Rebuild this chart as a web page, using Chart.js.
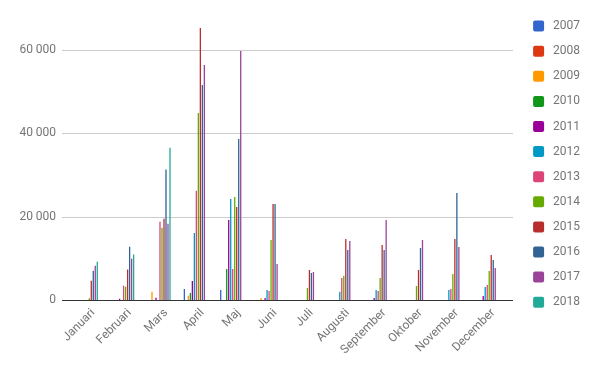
<!DOCTYPE html>
<html>
<head>
<meta charset="utf-8">
<script src="https://cdn.jsdelivr.net/npm/chart.js@4/dist/chart.umd.min.js"></script>
<style>
  html, body { margin: 0; padding: 0; background: #fff; }
  #wrap { width: 600px; height: 371px; }
</style>
</head>
<body>
<div id="wrap"><canvas id="c" width="600" height="371"></canvas></div>
<script>
const categories = ['Januari','Februari','Mars','April','Maj','Juni','Juli','Augusti','September','Oktober','November','December'];
const years = ['2007','2008','2009','2010','2011','2012','2013','2014','2015','2016','2017','2018'];
const colors = ['#3366cc','#dc3912','#ff9900','#109618','#990099','#0099c6','#dd4477','#66aa00','#b82e2e','#316395','#994499','#22aa99'];

const v2007 = [null, null, null, 2640, 2400, null, null, null, null, null, null, null];
const v2008 = [null, null, null, null, null, null, null, null, null, null, null, null];
const v2009 = [null, null, 2000, 1000, null, 500, null, null, null, null, null, null];
const v2010 = [null, null, null, 1700, 7450, null, null, null, null, null, null, null];
const v2011 = [null, 300, 550, 4560, 19200, 500, null, null, 500, null, null, 950];
const v2012 = [null, null, null, 16100, 24250, 2400, null, 2000, 2400, null, 2400, 3100];
const v2013 = [null, 3400, 18800, 26200, 7450, 2150, null, 5300, 2150, null, 2650, 3600];
const v2014 = [400, 3200, 17350, 44900, 24700, 14400, 2900, 5800, 5300, 3350, 6250, 6950];
const v2015 = [4600, 7300, 19500, 65300, 22300, 23050, 7200, 14650, 13200, 7200, 14650, 10800];
const v2016 = [7000, 12800, 31300, 51600, 38650, 23050, 6500, 12000, 12000, 12500, 25700, 9600];
const v2017 = [8200, 9900, 18300, 56400, 59750, 8650, 6700, 14150, 19200, 14400, 12700, 7700];
const v2018 = [9200, 10900, 36550, null, null, null, null, null, null, null, null, null];
const seriesValues = [v2007, v2008, v2009, v2010, v2011, v2012, v2013, v2014, v2015, v2016, v2017, v2018];

const yTickValues = [0, 20000, 40000, 60000];
const yMax = 67392;

const TEXT = '#757575';
const FONT = { family: 'Roboto', size: 12 };

function fmt(v) {
  return String(v).replace(/\B(?=(\d{3})+(?!\d))/g, ' ');
}

const gridPlugin = {
  id: 'gridExt',
  beforeDatasetsDraw(chart) {
    const ctx = chart.ctx, y = chart.scales.y;
    ctx.save();
    ctx.strokeStyle = '#cccccc';
    ctx.lineWidth = 1;
    yTickValues.forEach(v => {
      if (v === 0) return;
      const py = Math.round(y.getPixelForValue(v)) + 0.5;
      ctx.beginPath(); ctx.moveTo(62, py); ctx.lineTo(513, py); ctx.stroke();
    });
    ctx.restore();
  },
  afterDatasetsDraw(chart) {
    const ctx = chart.ctx, y = chart.scales.y;
    ctx.save();
    ctx.strokeStyle = '#333333';
    ctx.lineWidth = 1;
    const py = Math.round(y.getPixelForValue(0)) + 0.5;
    ctx.beginPath(); ctx.moveTo(62, py); ctx.lineTo(513, py); ctx.stroke();
    ctx.restore();
  }
};

new Chart(document.getElementById('c'), {
  type: 'bar',
  data: {
    labels: categories,
    datasets: years.map((yr, i) => ({
      label: yr,
      data: seriesValues[i],
      backgroundColor: colors[i],
      borderWidth: 0,
      categoryPercentage: 0.66,
      barPercentage: 0.65
    }))
  },
  options: {
    responsive: false,
    animation: false,
    devicePixelRatio: 1,
    layout: { padding: { top: 7, right: 20, bottom: 0, left: 0 } },
    plugins: {
      tooltip: { enabled: false },
      legend: {
        position: 'right',
        align: 'start',
        maxWidth: 60,
        labels: {
          boxWidth: 11,
          boxHeight: 11,
          padding: 13.1,
          color: TEXT,
          font: FONT,
          textAlign: 'right',
          useBorderRadius: true,
          borderRadius: 2
        }
      }
    },
    scales: {
      x: {
        grid: { display: false, drawTicks: false },
        border: { display: false },
        ticks: {
          color: TEXT, font: FONT,
          minRotation: 45, maxRotation: 45,
          autoSkip: false,
          padding: 6,
          labelOffset: 7
        },
        afterFit(s) { s.height = 71; }
      },
      y: {
        min: 0,
        max: yMax,
        grid: { display: false, drawTicks: false },
        border: { display: false },
        ticks: {
          color: TEXT, font: FONT, padding: 12,
          callback: (v) => fmt(v)
        },
        afterBuildTicks(s) { s.ticks = yTickValues.map(v => ({ value: v })); },
        afterFit(s) { s.width = 68.1; }
      },
      yR: {
        type: 'linear',
        position: 'right',
        display: true,
        grid: { display: false, drawTicks: false },
        border: { display: false },
        ticks: { display: false },
        afterFit(s) { s.width = 15.6; }
      }
    }
  },
  plugins: [gridPlugin]
});
</script>
</body>
</html>
